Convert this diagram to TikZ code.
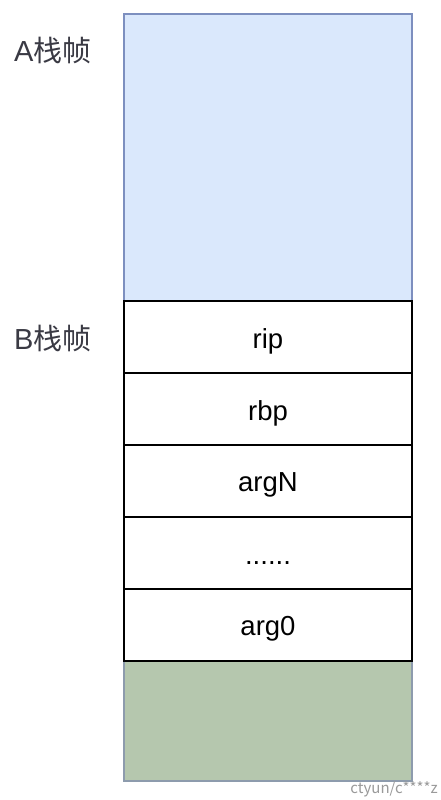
\documentclass[tikz,border=0pt]{standalone}
\usepackage{fontspec}
\setmainfont{Liberation Sans}
\newfontfamily\cjk{Noto Sans CJK SC}
\definecolor{blueFill}{HTML}{DAE8FC}
\definecolor{blueLine}{HTML}{7D8FBF}
\definecolor{greenFill}{HTML}{B5C7AE}
\definecolor{greenLine}{HTML}{8D9BAD}
\definecolor{labelGrey}{HTML}{3A3A44}
\definecolor{markGrey}{HTML}{9A9A9A}
\begin{document}
\begin{tikzpicture}[x=1pt,y=-1pt,
  cell/.style={draw=black,line width=1.5pt,fill=white,minimum width=288pt,minimum height=72pt,inner sep=0pt,text=black},
  celltext/.style={font=\fontsize{27.5}{32}\selectfont,text=black,inner sep=0pt},
  framelabel/.style={font=\fontsize{29}{34}\selectfont,text=labelGrey,anchor=west,inner sep=0pt}]
\useasboundingbox (0,0) rectangle (440,800);
\fill[white] (0,0) rectangle (440,800);
\node[draw=blueLine,line width=1.5pt,fill=blueFill,minimum width=288pt,minimum height=287pt,inner sep=0pt] (aframe) at (268,157.5) {};
\node[draw=greenLine,line width=1.5pt,fill=greenFill,minimum width=288pt,minimum height=120pt,inner sep=0pt] (bottom) at (268,721) {};
\node[cell] (rip) at (268,337) {};
\node[cell] (rbp) at (268,409) {};
\node[cell] (argN) at (268,481) {};
\node[cell] (dots) at (268,553) {};
\node[cell] (arg0) at (268,625) {};
\node[celltext] (riptext) at ([yshift=-4pt]rip.center) {rip};
\node[celltext] (rbptext) at ([yshift=-4pt]rbp.center) {rbp};
\node[celltext] (argNtext) at ([yshift=-4pt]argN.center) {argN};
\node[celltext,anchor=base] (dotstext) at ([yshift=-11pt]dots.center) {......};
\node[celltext] (arg0text) at ([yshift=-4pt]arg0.center) {arg0};
\node[framelabel] (alabel) at (14,51) {A{\cjk 栈帧}};
\node[framelabel] (blabel) at (14,339) {B{\cjk 栈帧}};
\node[font=\cjk\fontsize{15}{17}\selectfont,text=markGrey,anchor=south east,inner sep=0pt] (mark) at (438,797) {ctyun/c****z};
\end{tikzpicture}
\end{document}
